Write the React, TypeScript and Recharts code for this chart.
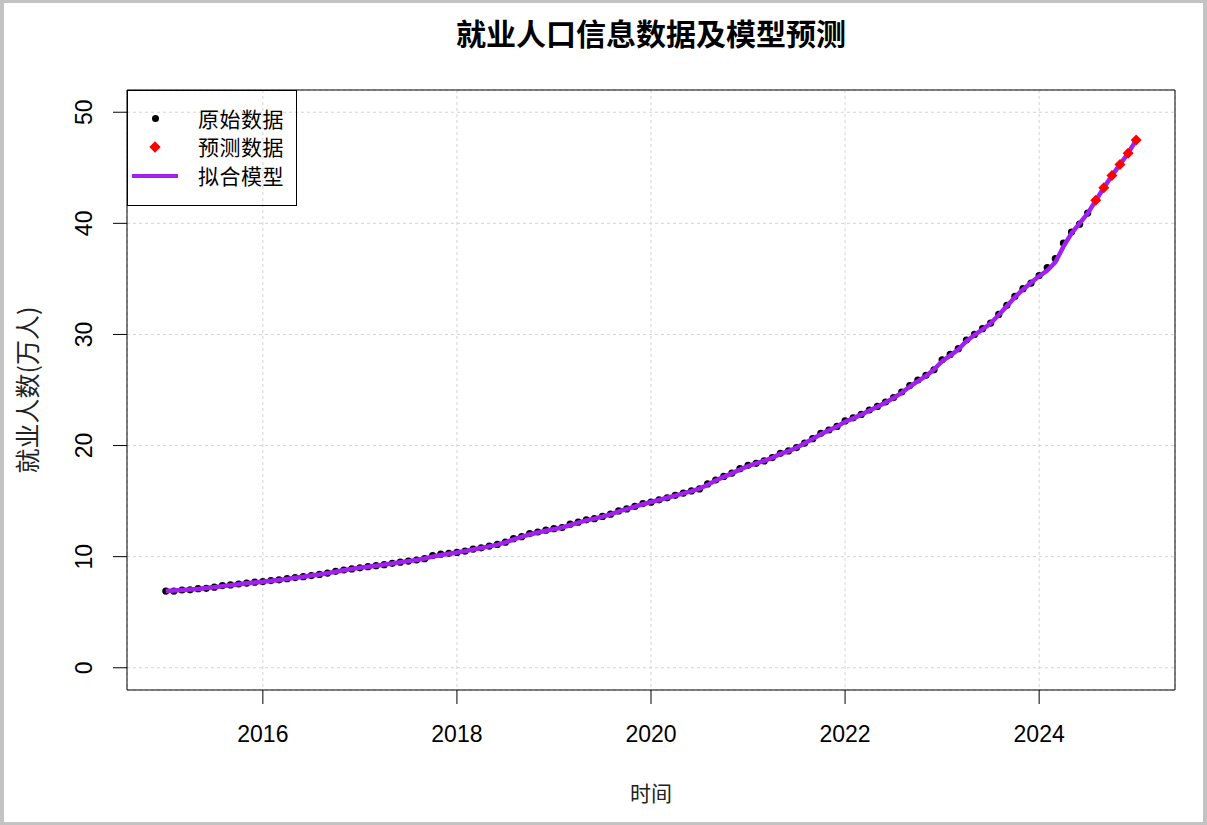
import React from "react";
import {
  CartesianGrid,
  ComposedChart,
  Line,
  ReferenceArea,
  XAxis,
  YAxis,
} from "recharts";

// monthly series, Jan 2015 .. Jul 2024
const observed = [
  6.9, 6.9, 7.0, 7.02, 7.12, 7.15, 7.25, 7.4, 7.46, 7.54, 7.62, 7.7,
  7.76, 7.85, 7.92, 8.02, 8.12, 8.2, 8.3, 8.4, 8.52, 8.68, 8.8, 8.9,
  9.0, 9.1, 9.19, 9.28, 9.4, 9.5, 9.6, 9.7, 9.82, 10.1, 10.22, 10.3,
  10.38, 10.5, 10.68, 10.8, 10.95, 11.1, 11.3, 11.62, 11.8, 12.08, 12.22, 12.38,
  12.52, 12.62, 12.92, 13.1, 13.32, 13.42, 13.62, 13.82, 14.12, 14.3, 14.52, 14.78,
  14.9, 15.12, 15.3, 15.52, 15.72, 15.92, 16.1, 16.55, 16.9, 17.22, 17.52, 17.92,
  18.22, 18.4, 18.62, 18.92, 19.3, 19.52, 19.82, 20.22, 20.62, 21.1, 21.4, 21.72,
  22.22, 22.5, 22.8, 23.2, 23.52, 23.92, 24.32, 24.82, 25.4, 25.9, 26.32, 26.82,
  27.72, 28.2, 28.72, 29.5, 30.0, 30.52, 31.02, 31.8, 32.62, 33.42, 34.12, 34.62,
  35.3, 36.02, 36.82, 38.22, 39.22, 39.92, 40.92,
];

// Aug 2024 .. Jan 2025
const predicted = [42.07, 43.2, 44.3, 45.3, 46.3, 47.5];

// fitted model, Jan 2015 .. Jan 2025
const fitted = [
  6.9, 6.95, 7.0, 7.05, 7.1, 7.17, 7.25, 7.35, 7.43, 7.52, 7.6, 7.68,
  7.75, 7.83, 7.91, 8.0, 8.1, 8.2, 8.3, 8.4, 8.52, 8.65, 8.78, 8.9,
  9.0, 9.1, 9.19, 9.29, 9.39, 9.49, 9.6, 9.7, 9.84, 10.0, 10.15, 10.27,
  10.38, 10.5, 10.64, 10.78, 10.93, 11.08, 11.28, 11.55, 11.78, 12.0, 12.18, 12.33,
  12.48, 12.62, 12.85, 13.07, 13.27, 13.42, 13.6, 13.8, 14.07, 14.28, 14.5, 14.72,
  14.92, 15.1, 15.3, 15.5, 15.7, 15.9, 16.12, 16.48, 16.85, 17.18, 17.5, 17.85,
  18.15, 18.4, 18.62, 18.9, 19.25, 19.5, 19.8, 20.2, 20.6, 21.02, 21.38, 21.7,
  22.15, 22.45, 22.78, 23.15, 23.5, 23.88, 24.28, 24.75, 25.3, 25.8, 26.25, 26.85,
  27.6, 28.1, 28.65, 29.4, 29.95, 30.45, 31.0, 31.75, 32.55, 33.35, 34.05, 34.65,
  35.25, 35.75, 36.5, 37.9, 39.1, 40.0, 40.9, 42.05, 43.2, 44.3, 45.3, 46.3,
  47.5,
];

const startYear = 2015;
const xTicks = [2016, 2018, 2020, 2022, 2024];
const yTicks = [0, 10, 20, 30, 40, 50];
const xDomain: [number, number] = [2014.6, 2025.4];
const yDomain: [number, number] = [-2, 52];

const obsRows = observed.map((v, i) => ({ t: startYear + i / 12, v }));
const predRows = predicted.map((v, i) => ({
  t: startYear + (observed.length + i) / 12,
  v,
}));
const fitRows = fitted.map((fit, i) => ({ t: startYear + i / 12, fit }));

const numFont = "'Liberation Sans', Arial, sans-serif";
const cjkFont = "'Noto Sans CJK SC', 'Noto Sans', sans-serif";
const chartMargin = { top: 90, right: 32, bottom: 0, left: 0 };

const Dot = (props: any) => {
  const { cx, cy, index } = props;
  return <circle key={`o-${index}`} cx={cx} cy={cy} r={3.6} fill="#000" />;
};

const Diamond = (props: any) => {
  const { cx, cy, index } = props;
  const s = 5.5;
  return (
    <polygon
      key={`p-${index}`}
      points={`${cx},${cy - s} ${cx + s},${cy} ${cx},${cy + s} ${cx - s},${cy}`}
      fill="#ff0000"
    />
  );
};

const XTick = (props: any) => {
  const { x, payload } = props;
  return (
    <text
      x={x}
      y={742}
      textAnchor="middle"
      fontFamily={numFont}
      fontSize={23}
      fill="#000"
    >
      {payload.value}
    </text>
  );
};

const YTick = (props: any) => {
  const { y, payload } = props;
  const x = 92;
  return (
    <text
      x={x}
      y={y}
      transform={`rotate(-90 ${x} ${y})`}
      textAnchor="middle"
      fontFamily={numFont}
      fontSize={23}
      fill="#000"
    >
      {payload.value}
    </text>
  );
};

function LegendBox() {
  const row: React.CSSProperties = {
    position: "absolute",
    left: 0,
    height: 28,
    width: "100%",
  };
  const label: React.CSSProperties = {
    position: "absolute",
    left: 70,
    top: 0,
    fontFamily: cjkFont,
    fontSize: 21,
    letterSpacing: 0.5,
    color: "#000",
    lineHeight: "28px",
  };
  return (
    <div
      style={{
        position: "absolute",
        left: 127,
        top: 90,
        width: 170,
        height: 116,
        border: "1px solid #000",
        boxSizing: "border-box",
      }}
    >
      <div style={{ ...row, top: 13 }}>
        <div
          style={{
            position: "absolute",
            left: 24,
            top: 11,
            width: 7,
            height: 7,
            borderRadius: "50%",
            background: "#000",
          }}
        />
        <span style={label}>原始数据</span>
      </div>
      <div style={{ ...row, top: 41 }}>
        <div
          style={{
            position: "absolute",
            left: 23,
            top: 11,
            width: 8,
            height: 8,
            background: "#ff0000",
            transform: "rotate(45deg)",
          }}
        />
        <span style={label}>预测数据</span>
      </div>
      <div style={{ ...row, top: 70 }}>
        <div
          style={{
            position: "absolute",
            left: 4,
            top: 13,
            width: 46,
            height: 4,
            background: "#a020f0",
          }}
        />
        <span style={label}>拟合模型</span>
      </div>
    </div>
  );
}

export default function App() {
  return (
    <div
      style={{
        position: "absolute",
        left: 0,
        top: 0,
        width: 1207,
        height: 825,
        background: "#c3c3c3",
      }}
    >
      <div
        style={{
          position: "absolute",
          left: 4,
          top: 3,
          width: 1199,
          height: 819,
          background: "#fff",
        }}
      />
      <div
        style={{
          position: "absolute",
          left: 0,
          top: 10,
          width: 1302,
          textAlign: "center",
          fontFamily: cjkFont,
          fontWeight: 700,
          fontSize: 30,
          color: "#000",
        }}
      >
        就业人口信息数据及模型预测
      </div>
      {/* base layer: frame, grid, axes, observed points */}
      <div style={{ position: "absolute", left: 0, top: 0 }}>
        <ComposedChart width={1207} height={825} margin={chartMargin}>
          <CartesianGrid
            stroke="#d3d3d3"
            strokeDasharray="3 3"
            strokeWidth={1}
          />
          <XAxis
            type="number"
            dataKey="t"
            domain={xDomain}
            ticks={xTicks}
            allowDataOverflow
            height={135}
            axisLine={false}
            tickSize={14}
            tickLine={{ stroke: "#000", strokeWidth: 1 }}
            tick={<XTick />}
            interval={0}
          />
          <YAxis
            type="number"
            domain={yDomain}
            ticks={yTicks}
            allowDataOverflow
            width={127}
            axisLine={false}
            tickSize={14}
            tickLine={{ stroke: "#000", strokeWidth: 1 }}
            tick={<YTick />}
            interval={0}
          />
          <ReferenceArea
            x1={xDomain[0]}
            x2={xDomain[1]}
            y1={yDomain[0]}
            y2={yDomain[1]}
            fill="none"
            fillOpacity={0}
            stroke="#000"
            strokeWidth={1}
            strokeOpacity={1}
          />
          <Line
            data={obsRows}
            dataKey="v"
            stroke="none"
            dot={<Dot />}
            activeDot={false}
            isAnimationActive={false}
          />
        </ComposedChart>
      </div>
      {/* top layer: fitted curve and predictions */}
      <div style={{ position: "absolute", left: 0, top: 0 }}>
        <ComposedChart width={1207} height={825} margin={chartMargin}>
          <XAxis
            type="number"
            dataKey="t"
            domain={xDomain}
            allowDataOverflow
            height={135}
            axisLine={false}
            tickLine={false}
            tick={false}
          />
          <YAxis
            type="number"
            domain={yDomain}
            allowDataOverflow
            width={127}
            axisLine={false}
            tickLine={false}
            tick={false}
          />
          <Line
            data={fitRows}
            dataKey="fit"
            type="linear"
            stroke="#a020f0"
            strokeWidth={4.5}
            dot={false}
            activeDot={false}
            isAnimationActive={false}
          />
          <Line
            data={predRows}
            dataKey="v"
            stroke="none"
            dot={<Diamond />}
            activeDot={false}
            isAnimationActive={false}
          />
        </ComposedChart>
      </div>
      <LegendBox />
      <div
        style={{
          position: "absolute",
          left: 26 - 110,
          top: 390 - 15,
          width: 220,
          height: 30,
          lineHeight: "30px",
          textAlign: "center",
          transform: "rotate(-90deg)",
          fontFamily: cjkFont,
          fontSize: 25,
          color: "#222",
        }}
      >
        就业人数(万人)
      </div>
      <div
        style={{
          position: "absolute",
          left: 551,
          top: 778,
          width: 200,
          textAlign: "center",
          fontFamily: cjkFont,
          fontSize: 21,
          color: "#222",
          lineHeight: "28px",
        }}
      >
        时间
      </div>
    </div>
  );
}
